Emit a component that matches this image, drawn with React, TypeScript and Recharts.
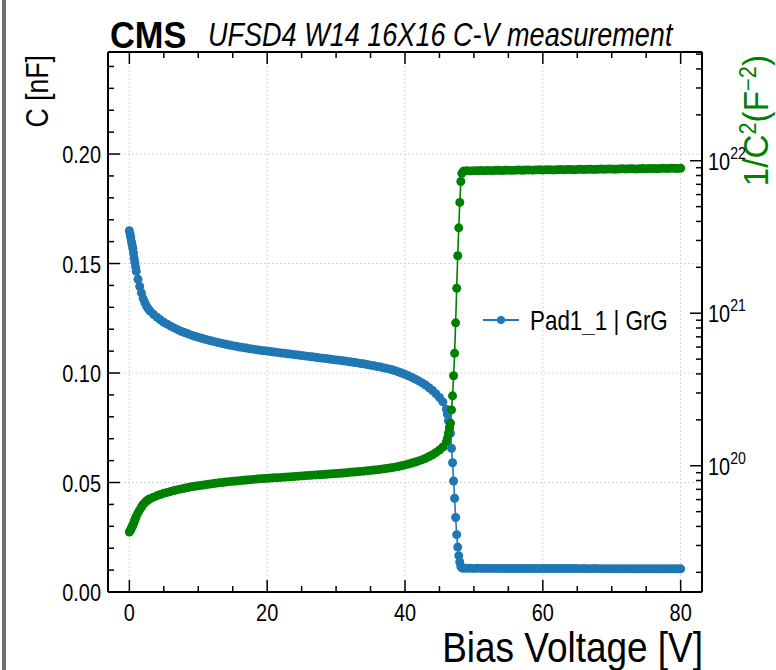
import { LineChart, Line, XAxis, YAxis, ReferenceLine, Legend } from 'recharts';

const FONT = "'Liberation Sans', Arial, sans-serif";
const BLUE = '#1f77b4';
const GREEN = '#008000';

// bias sweep [V]
const biasVoltage = [
  0, 0.1, 0.2, 0.3, 0.4, 0.5, 0.6, 0.7, 0.8, 0.9, 1.0,
  1.25, 1.5, 1.75, 2.0, 2.25, 2.5, 2.75, 3.0,
  3.5, 4, 4.5, 5, 5.5, 6, 6.5, 7, 7.5, 8,
  8.5, 9, 9.5, 10, 10.5, 11, 11.5, 12, 12.5, 13,
  13.5, 14, 14.5, 15, 15.5, 16, 16.5, 17, 17.5, 18,
  18.5, 19, 19.5, 20, 20.5, 21, 21.5, 22, 22.5, 23,
  23.5, 24, 24.5, 25, 25.5, 26, 26.5, 27, 27.5, 28,
  28.5, 29, 29.5, 30, 30.5, 31, 31.5, 32, 32.5, 33,
  33.5, 34, 34.5, 35, 35.5, 36, 36.5, 37, 37.5, 38,
  38.5, 39, 39.5, 40, 40.5, 41, 41.5, 42, 42.5, 43,
  43.5, 44, 44.5, 45, 45.5, 46,
  46.15, 46.3, 46.45, 46.6, 46.75, 46.9, 47.05, 47.2, 47.35, 47.5, 47.65, 47.8, 47.95, 48.1, 48.25, 48.5,
  49, 49.5, 50, 50.5, 51, 51.5, 52, 52.5, 53, 53.5,
  54, 54.5, 55, 55.5, 56, 56.5, 57, 57.5, 58, 58.5,
  59, 59.5, 60, 60.5, 61, 61.5, 62, 62.5, 63, 63.5,
  64, 64.5, 65, 65.5, 66, 66.5, 67, 67.5, 68, 68.5,
  69, 69.5, 70, 70.5, 71, 71.5, 72, 72.5, 73, 73.5,
  74, 74.5, 75, 75.5, 76, 76.5, 77, 77.5, 78, 78.5,
  79, 79.5, 80,
];

// pad capacitance [nF]
const capacitance = [
  0.1650, 0.1635, 0.1620, 0.1600, 0.1585, 0.1570, 0.1548, 0.1525, 0.1505, 0.1485, 0.1465,
  0.1428, 0.1395, 0.1366, 0.1340, 0.1321, 0.1305, 0.1293, 0.1283,
  0.1268, 0.1255, 0.1243, 0.1232, 0.1223, 0.1214, 0.1206, 0.1198, 0.1191, 0.1185,
  0.1179, 0.1173, 0.1168, 0.1163, 0.1159, 0.1154, 0.1150, 0.1146, 0.1142, 0.1138,
  0.1135, 0.1131, 0.1128, 0.1125, 0.1122, 0.1119, 0.1116, 0.1114, 0.1111, 0.1109,
  0.1106, 0.1104, 0.1102, 0.1100, 0.1098, 0.1096, 0.1094, 0.1092, 0.1090, 0.1088,
  0.1086, 0.1084, 0.1082, 0.1080, 0.1078, 0.1076, 0.1074, 0.1072, 0.1070, 0.1068,
  0.1066, 0.1064, 0.1062, 0.1060, 0.1058, 0.1056, 0.1054, 0.1051, 0.1049, 0.1047,
  0.1044, 0.1042, 0.1039, 0.1036, 0.1033, 0.1030, 0.1027, 0.1023, 0.1020, 0.1016,
  0.1011, 0.1006, 0.1000, 0.0994, 0.0987, 0.0980, 0.0972, 0.0964, 0.0955, 0.0945,
  0.0933, 0.0920, 0.0905, 0.0888, 0.0868, 0.0835,
  0.0812, 0.0782, 0.0752, 0.0725, 0.0656, 0.0590, 0.0507, 0.0428, 0.0340, 0.0262, 0.0205, 0.0166, 0.0137, 0.0117, 0.0110, 0.0108,
  0.01079, 0.01080, 0.01078, 0.01079, 0.01077, 0.01078, 0.01076, 0.01078, 0.01076, 0.01075,
  0.01077, 0.01075, 0.01074, 0.01076, 0.01074, 0.01073, 0.01075, 0.01073, 0.01072, 0.01074,
  0.01072, 0.01071, 0.01073, 0.01071, 0.01070, 0.01072, 0.01070, 0.01069, 0.01071, 0.01069,
  0.01068, 0.01070, 0.01068, 0.01067, 0.01069, 0.01067, 0.01066, 0.01068, 0.01066, 0.01065,
  0.01067, 0.01065, 0.01064, 0.01066, 0.01064, 0.01063, 0.01065, 0.01063, 0.01062, 0.01064,
  0.01062, 0.01061, 0.01063, 0.01061, 0.01060, 0.01062, 0.01060, 0.01059, 0.01061, 0.01059,
  0.01058, 0.01060, 0.01058,
];

// 1/C^2 [F^-2]
const invCapSq = [
  3.673e19, 3.741e19, 3.810e19, 3.906e19, 3.981e19, 4.057e19, 4.173e19, 4.300e19, 4.415e19, 4.535e19, 4.659e19,
  4.904e19, 5.139e19, 5.359e19, 5.569e19, 5.731e19, 5.872e19, 5.981e19, 6.075e19,
  6.220e19, 6.349e19, 6.472e19, 6.588e19, 6.686e19, 6.785e19, 6.876e19, 6.968e19, 7.050e19, 7.121e19,
  7.194e19, 7.268e19, 7.330e19, 7.393e19, 7.444e19, 7.509e19, 7.561e19, 7.614e19, 7.668e19, 7.722e19,
  7.763e19, 7.818e19, 7.859e19, 7.901e19, 7.943e19, 7.986e19, 8.029e19, 8.058e19, 8.101e19, 8.131e19,
  8.175e19, 8.205e19, 8.235e19, 8.264e19, 8.295e19, 8.325e19, 8.355e19, 8.386e19, 8.417e19, 8.448e19,
  8.479e19, 8.510e19, 8.542e19, 8.573e19, 8.605e19, 8.637e19, 8.669e19, 8.702e19, 8.734e19, 8.767e19,
  8.800e19, 8.833e19, 8.867e19, 8.900e19, 8.934e19, 8.968e19, 9.002e19, 9.053e19, 9.088e19, 9.122e19,
  9.175e19, 9.210e19, 9.263e19, 9.317e19, 9.371e19, 9.426e19, 9.481e19, 9.556e19, 9.612e19, 9.687e19,
  9.784e19, 9.881e19, 1.000e20, 1.012e20, 1.027e20, 1.041e20, 1.058e20, 1.076e20, 1.096e20, 1.120e20,
  1.149e20, 1.181e20, 1.221e20, 1.268e20, 1.327e20, 1.434e20,
  1.517e20, 1.635e20, 1.768e20, 1.902e20, 2.324e20, 2.873e20, 3.890e20, 5.459e20, 8.651e20, 1.457e21, 2.380e21, 3.629e21, 5.328e21, 7.305e21, 8.264e21, 8.573e21,
  8.589e21, 8.573e21, 8.605e21, 8.589e21, 8.621e21, 8.605e21, 8.637e21, 8.605e21, 8.637e21, 8.653e21,
  8.621e21, 8.653e21, 8.669e21, 8.637e21, 8.669e21, 8.686e21, 8.653e21, 8.686e21, 8.702e21, 8.669e21,
  8.702e21, 8.718e21, 8.686e21, 8.718e21, 8.734e21, 8.702e21, 8.734e21, 8.751e21, 8.718e21, 8.751e21,
  8.767e21, 8.734e21, 8.767e21, 8.784e21, 8.751e21, 8.784e21, 8.800e21, 8.767e21, 8.800e21, 8.817e21,
  8.784e21, 8.817e21, 8.833e21, 8.800e21, 8.833e21, 8.850e21, 8.817e21, 8.850e21, 8.867e21, 8.833e21,
  8.867e21, 8.883e21, 8.850e21, 8.883e21, 8.900e21, 8.867e21, 8.900e21, 8.917e21, 8.883e21, 8.917e21,
  8.934e21, 8.900e21, 8.934e21,
];

const voltTicks = [0, 5, 10, 15, 20, 25, 30, 35, 40, 45, 50, 55, 60, 65, 70, 75, 80];
const voltMajor = [0, 20, 40, 60, 80];
const capTicks = [
  0, 0.01, 0.02, 0.03, 0.04, 0.05, 0.06, 0.07, 0.08, 0.09, 0.1, 0.11, 0.12,
  0.13, 0.14, 0.15, 0.16, 0.17, 0.18, 0.19, 0.2, 0.21, 0.22, 0.23, 0.24,
];
const capMajor = [0, 0.05, 0.1, 0.15, 0.2];
const logTicks = [
  2e19, 3e19, 4e19, 5e19, 6e19, 7e19, 8e19, 9e19,
  1e20, 2e20, 3e20, 4e20, 5e20, 6e20, 7e20, 8e20, 9e20,
  1e21, 2e21, 3e21, 4e21, 5e21, 6e21, 7e21, 8e21, 9e21,
  1e22, 2e22, 3e22, 4e22, 5e22,
];
const logMajor = [1e20, 1e21, 1e22];

const rows = biasVoltage.map((v, i) => ({ v, c: capacitance[i], inv: invCapSq[i] }));

const MAJOR_LEN = 12;
const MINOR_LEN = 6;
const TICK_FS = 24;
const SQUEEZE = 0.83; // narrow Helvetica look

// text drawn with a horizontal squeeze; rot=-90 for vertical axis titles
const Txt = ({ x, y, size, sx = SQUEEZE, rot = 0, anchor = 'start', weight, italic, fill = '#000', children }: any) => (
  <text
    transform={`translate(${x} ${y}) rotate(${rot}) scale(${sx} 1)`}
    textAnchor={anchor}
    fontSize={size}
    fontFamily={FONT}
    fontWeight={weight}
    fontStyle={italic ? 'italic' : undefined}
    fill={fill}
  >
    {children}
  </text>
);

const BottomTick = ({ x, y, payload }: any) => {
  const major = voltMajor.includes(payload.value);
  return (
    <g>
      <line x1={x} x2={x} y1={y} y2={y - (major ? MAJOR_LEN : MINOR_LEN)} stroke="#000" strokeWidth={1.5} />
      {major && (
        <Txt x={x} y={y + 29} size={TICK_FS} anchor="middle">
          {payload.value}
        </Txt>
      )}
    </g>
  );
};

const TopTick = ({ x, y, payload }: any) => {
  const major = voltMajor.includes(payload.value);
  return <line x1={x} x2={x} y1={y} y2={y + (major ? MAJOR_LEN : MINOR_LEN)} stroke="#000" strokeWidth={1.5} />;
};

const LeftTick = ({ x, y, payload }: any) => {
  const major = capMajor.includes(payload.value);
  return (
    <g>
      <line x1={x} x2={x + (major ? MAJOR_LEN : MINOR_LEN)} y1={y} y2={y} stroke="#000" strokeWidth={1.5} />
      {major && (
        <Txt x={x - 7} y={y + 9} size={TICK_FS} anchor="end">
          {payload.value.toFixed(2)}
        </Txt>
      )}
    </g>
  );
};

const RightTick = ({ x, y, payload }: any) => {
  const major = logMajor.includes(payload.value);
  const exp = Math.round(Math.log10(payload.value));
  return (
    <g>
      <line x1={x} x2={x - (major ? MAJOR_LEN : MINOR_LEN)} y1={y} y2={y} stroke="#000" strokeWidth={1.5} />
      {major && (
        <Txt x={x + 6} y={y + 9} size={TICK_FS}>
          10
          <tspan dy={-11} fontSize={17}>{exp}</tspan>
        </Txt>
      )}
    </g>
  );
};

const renderLegend = (props: any) => {
  const items = (props.payload ?? []).filter((p: any) => p.type !== 'none');
  return (
    <div>
      {items.map((item: any) => (
        <svg key={item.value} width={200} height={30} style={{ display: 'block' }}>
          <line x1={0} x2={36} y1={15} y2={15} stroke={BLUE} strokeWidth={2} />
          <circle cx={18} cy={15} r={4} fill={BLUE} />
          <Txt x={47} y={25} size={27}>{item.value}</Txt>
        </svg>
      ))}
    </div>
  );
};

export default function App() {
  return (
    <div style={{ position: 'absolute', left: 0, top: 0, width: 776, height: 670, background: '#fff', overflow: 'hidden' }}>
      <div style={{ position: 'absolute', left: 2, top: 0, width: 4, height: 670, background: '#707070' }} />
      <LineChart width={776} height={670} data={rows} margin={{ top: 50, right: 0, bottom: 0, left: 0 }}>
        <XAxis
          dataKey="v"
          type="number"
          domain={[-3.1, 83.1]}
          allowDataOverflow
          ticks={voltTicks}
          interval={0}
          height={78}
          tickSize={0}
          tickMargin={0}
          tick={<BottomTick />}
          axisLine={{ stroke: '#000', strokeWidth: 2 }}
          label={{
            content: ({ viewBox }: any) => {
              const vb = viewBox ?? { x: 108, y: 592, width: 594, height: 78 };
              return (
                <Txt x={vb.x + vb.width + 1} y={vb.y + 70} size={42} sx={0.88} anchor="end">
                  Bias Voltage [V]
                </Txt>
              );
            },
          }}
        />
        <XAxis
          xAxisId="top"
          orientation="top"
          dataKey="v"
          type="number"
          domain={[-3.1, 83.1]}
          allowDataOverflow
          ticks={voltTicks}
          interval={0}
          height={2}
          tickSize={0}
          tickMargin={0}
          tick={<TopTick />}
          axisLine={{ stroke: '#000', strokeWidth: 2 }}
          label={{
            content: ({ viewBox }: any) => {
              const vb = viewBox ?? { x: 108, y: 50, width: 594, height: 2 };
              return (
                <g>
                  <Txt x={vb.x + 2} y={vb.y - 2} size={37} sx={0.93} weight="bold">CMS</Txt>
                  <Txt x={vb.x + 100} y={vb.y - 4} size={33} sx={0.82} italic>
                    UFSD4 W14 16X16 C-V measurement
                  </Txt>
                </g>
              );
            },
          }}
        />
        <YAxis
          yAxisId="c"
          domain={[0, 0.2466]}
          allowDataOverflow
          ticks={capTicks}
          interval={0}
          width={108}
          tickSize={0}
          tickMargin={0}
          tick={<LeftTick />}
          axisLine={{ stroke: '#000', strokeWidth: 2 }}
          label={{
            content: ({ viewBox }: any) => {
              const vb = viewBox ?? { x: 0, y: 52, width: 108, height: 540 };
              return (
                <Txt x={vb.x + 48} y={vb.y + 3} size={31} sx={0.86} rot={-90} anchor="end">
                  C [nF]
                </Txt>
              );
            },
          }}
        />
        <YAxis
          yAxisId="inv"
          orientation="right"
          scale="log"
          domain={[1.486e19, 5.164e22]}
          allowDataOverflow
          ticks={logTicks}
          interval={0}
          width={74}
          tickSize={0}
          tickMargin={0}
          tick={<RightTick />}
          axisLine={{ stroke: '#000', strokeWidth: 2 }}
          label={{
            content: ({ viewBox }: any) => {
              const vb = viewBox ?? { x: 702, y: 52, width: 74, height: 540 };
              return (
                <Txt x={vb.x + 66} y={vb.y + 3} size={35} sx={0.95} rot={-90} anchor="end" fill={GREEN}>
                  1/C
                  <tspan dy={-12} fontSize={23}>2</tspan>
                  <tspan dy={12}>(F</tspan>
                  <tspan dy={-12} fontSize={23}>−2</tspan>
                  <tspan dy={12}>)</tspan>
                </Txt>
              );
            },
          }}
        />

        {voltMajor.map((v) => (
          <ReferenceLine key={`gx${v}`} x={v} yAxisId="c" stroke="#d4d4d4" strokeDasharray="2 2" strokeWidth={1} />
        ))}
        {capMajor.slice(1).map((c) => (
          <ReferenceLine key={`gy${c}`} y={c} yAxisId="c" stroke="#d4d4d4" strokeDasharray="2 2" strokeWidth={1} />
        ))}

        <Legend
          layout="vertical"
          align="center"
          verticalAlign="middle"
          content={renderLegend}
          wrapperStyle={{ left: 483, top: 305, width: 200 }}
        />

        <Line
          yAxisId="c"
          dataKey="c"
          name="Pad1_1 | GrG"
          stroke={BLUE}
          strokeWidth={1.6}
          dot={{ r: 4.5, fill: BLUE, stroke: BLUE, strokeWidth: 0 }}
          activeDot={false}
          isAnimationActive={false}
        />
        <Line
          yAxisId="inv"
          dataKey="inv"
          name="1/C2"
          legendType="none"
          stroke={GREEN}
          strokeWidth={1.6}
          dot={{ r: 4.5, fill: GREEN, stroke: GREEN, strokeWidth: 0 }}
          activeDot={false}
          isAnimationActive={false}
        />
      </LineChart>
    </div>
  );
}
